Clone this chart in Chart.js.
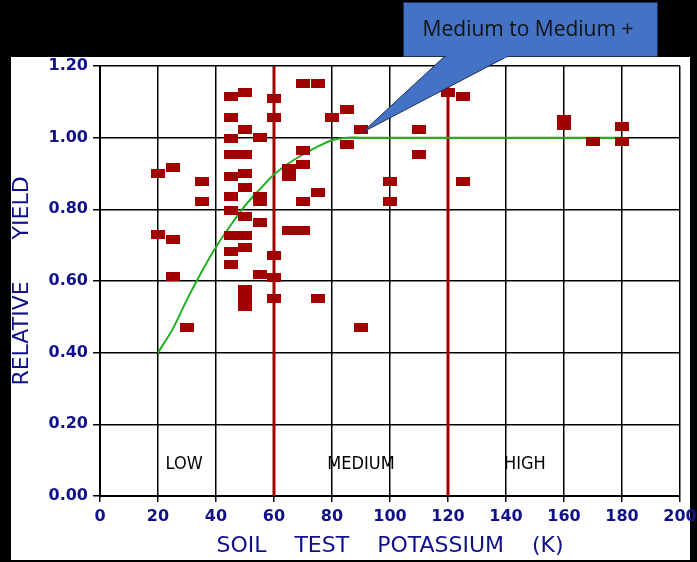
<!DOCTYPE html>
<html>
<head>
<meta charset="utf-8">
<script src="https://cdn.jsdelivr.net/npm/chart.js@4.4.1/dist/chart.umd.min.js"></script>
<style>
  html, body { margin: 0; padding: 0; background: #000; }
  canvas { display: block; }
</style>
</head>
<body>
<canvas id="yieldChart" width="697" height="562"></canvas>
<script>
// soil test K (x) vs relative yield (y)
const sampleK = [20, 20, 25, 25, 25, 30, 35, 35,
  45, 45, 45, 45, 45, 45, 45, 45, 45, 45,
  50, 50, 50, 50, 50, 50, 50, 50, 50, 50, 50,
  55, 55, 55, 55, 55,
  60, 60, 60, 60, 60,
  65, 65, 65,
  70, 70, 70, 70, 70,
  75, 75, 75,
  80, 85, 85, 90, 90, 100, 100, 110, 110, 120, 125, 125,
  160, 160, 170, 180, 180];
const sampleYield = [0.90, 0.73, 0.917, 0.717, 0.612, 0.47, 0.878, 0.823,
  1.114, 1.056, 0.997, 0.952, 0.893, 0.835, 0.798, 0.728, 0.682, 0.647,
  1.127, 1.023, 0.952, 0.90, 0.86, 0.78, 0.728, 0.694, 0.575, 0.55, 0.53,
  1.0, 0.837, 0.823, 0.764, 0.617,
  1.11, 1.056, 0.67, 0.61, 0.552,
  0.915, 0.893, 0.74,
  1.15, 0.963, 0.926, 0.823, 0.74,
  1.15, 0.847, 0.552,
  1.056, 1.079, 0.98, 1.023, 0.47, 0.879, 0.823, 1.023, 0.952, 1.127, 1.114, 0.879,
  1.05, 1.035, 0.99, 1.03, 0.99];

// fitted response curve (green)
const curveK = [20, 25, 30, 35, 40, 45, 50, 55, 60, 65, 70, 75, 80, 85, 90, 180];
const curveYield = [0.40, 0.465, 0.548, 0.625, 0.695, 0.755, 0.81, 0.855, 0.897, 0.928, 0.953, 0.975, 0.993, 1.0, 1.0, 1.0];

// class boundaries and labels
const boundaryK = [60, 120];
const zoneLabels = ['LOW', 'MEDIUM', 'HIGH'];
const zoneK = [29, 90, 146.5];
const zoneY = 0.087;

const xTicks = [0, 20, 40, 60, 80, 100, 120, 140, 160, 180, 200];
const yTicks = [0, 0.2, 0.4, 0.6, 0.8, 1.0, 1.2];

const calloutText = 'Medium to Medium +';
const calloutTip = { x: 90.5, y: 1.015 };

const navy = '#10108c';
const darkRed = '#a00000';

// rectangular marker like the original plot
const marker = document.createElement('canvas');
marker.width = 14;
marker.height = 9;
const mctx = marker.getContext('2d');
mctx.fillStyle = darkRed;
mctx.fillRect(0, 0, 14, 9);

const points = sampleK.map((k, i) => ({ x: k, y: sampleYield[i] }));
const curve = curveK.map((k, i) => ({ x: k, y: curveYield[i] }));

const boundarySets = boundaryK.map(k => ({
    type: 'line',
    data: [{ x: k, y: 0 }, { x: k, y: 1.2 }],
    borderColor: darkRed,
    borderWidth: 3,
    pointRadius: 0,
    order: 3
}));

const framePlugin = {
    id: 'frame',
    beforeDraw(chart) {
        const c = chart.ctx;
        c.save();
        c.fillStyle = '#000';
        c.fillRect(0, 0, chart.width, chart.height);
        c.fillStyle = '#fff';
        c.fillRect(11, 57, 679, 503);
        c.restore();
    },
    afterDatasetsDraw(chart) {
        const c = chart.ctx;
        const xs = chart.scales.x, ys = chart.scales.y;
        c.save();
        c.fillStyle = '#000';
        c.font = '18px "DejaVu Sans Condensed", "DejaVu Sans", sans-serif';
        c.textAlign = 'center';
        c.textBaseline = 'middle';
        zoneLabels.forEach((t, i) => {
            c.fillText(t, xs.getPixelForValue(zoneK[i]), ys.getPixelForValue(zoneY));
        });
        c.restore();
    },
    afterDraw(chart) {
        const c = chart.ctx;
        const tipX = chart.scales.x.getPixelForValue(calloutTip.x);
        const tipY = chart.scales.y.getPixelForValue(calloutTip.y);
        c.save();
        c.fillStyle = '#4472c4';
        c.strokeStyle = '#1c2f57';
        c.lineWidth = 1;
        // pointer
        c.beginPath();
        c.moveTo(445, 56);
        c.lineTo(tipX, tipY);
        c.lineTo(508, 56);
        c.closePath();
        c.fill();
        c.stroke();
        // box
        c.fillRect(403, 2, 255, 55);
        c.strokeRect(403.5, 2.5, 254, 54);
        c.fillRect(446, 55, 61, 3);
        c.fillStyle = '#111';
        c.font = '21px "Open Sans", sans-serif';
        c.textAlign = 'center';
        c.textBaseline = 'middle';
        c.fillText(calloutText, 528, 30);
        c.restore();
    }
};

const tickFont = { family: '"DejaVu Sans", sans-serif', size: 16, weight: 'bold' };
const titleFont = { family: '"DejaVu Sans", sans-serif', size: 22, lineHeight: 1 };

const ctx = document.getElementById('yieldChart').getContext('2d');
const chart = new Chart(ctx, {
    type: 'scatter',
    data: {
        datasets: [
            { label: 'Relative yield', data: points, pointStyle: marker, pointRadius: 7, order: 1 },
            { type: 'line', label: 'Response', data: curve, borderColor: '#1fb21f', borderWidth: 2, pointRadius: 0, tension: 0.3, order: 2 },
            ...boundarySets
        ]
    },
    options: {
        responsive: false,
        animation: false,
        layout: { padding: { left: 11, right: 17, top: 66, bottom: 2 } },
        plugins: { legend: { display: false }, tooltip: { enabled: false } },
        scales: {
            x: {
                type: 'linear', min: 0, max: 200,
                afterBuildTicks: s => { s.ticks = xTicks.map(v => ({ value: v })); },
                afterFit: s => { s.height = 64; s.paddingLeft = 0; s.paddingRight = 0; },
                grid: { color: '#000', lineWidth: 1.5, tickLength: 6, tickColor: '#000' },
                border: { color: '#000', width: 2 },
                ticks: { color: navy, padding: 5, maxRotation: 0, font: tickFont },
                title: {
                    display: true, text: 'SOIL    TEST    POTASSIUM    (K)', color: navy,
                    padding: { top: 0, bottom: 3 },
                    font: titleFont
                }
            },
            y: {
                type: 'linear', min: 0, max: 1.2,
                afterBuildTicks: s => { s.ticks = yTicks.map(v => ({ value: v })); },
                afterFit: s => { s.width = 89; s.paddingTop = 0; s.paddingBottom = 0; },
                grid: { color: '#000', lineWidth: 1.5, tickLength: 7, tickColor: '#000' },
                border: { color: '#000', width: 2 },
                ticks: { color: navy, padding: 5, callback: v => v.toFixed(2), font: tickFont },
                title: {
                    display: true, text: 'RELATIVE      YIELD', color: navy,
                    padding: { top: 0, bottom: 0 },
                    font: titleFont
                }
            }
        }
    },
    plugins: [framePlugin]
});
</script>
</body>
</html>
